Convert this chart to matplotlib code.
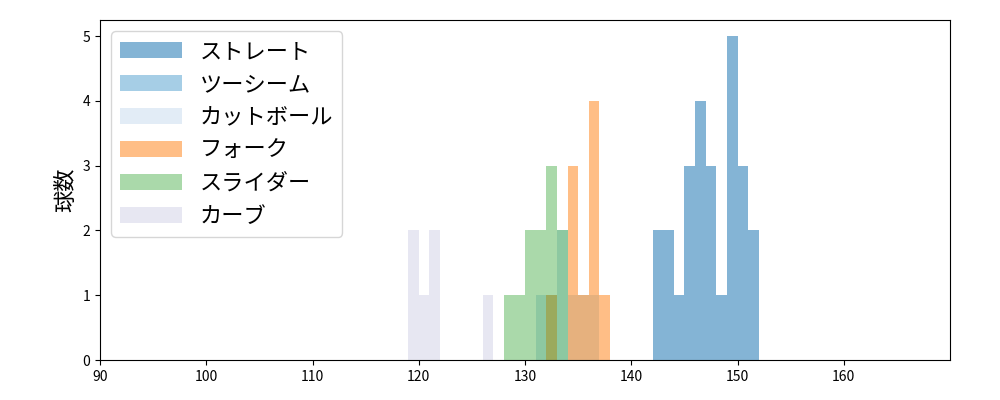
import numpy as np
import matplotlib
matplotlib.use("Agg")
import matplotlib.pyplot as plt

plt.rcParams['font.family'] = ['Noto Sans CJK JP', 'DejaVu Sans']

# speed (km/h) per pitch, one entry per pitch
straight_speeds = [142, 142, 143, 143, 144, 145, 145, 145, 146, 146, 146, 146,
                   147, 147, 147, 148, 149, 149, 149, 149, 149, 150, 150, 150, 151, 151]
twoseam_speeds = []
cutball_speeds = [131, 132, 133, 133, 134, 135, 136]
fork_speeds = [132, 134, 134, 134, 135, 136, 136, 136, 136, 137]
slider_speeds = [128, 129, 130, 130, 131, 131, 132, 132, 132, 133, 133]
curve_speeds = [119, 119, 120, 121, 121, 126]

labels = ['ストレート', 'ツーシーム', 'カットボール', 'フォーク', 'スライダー', 'カーブ']
colors = ['#1f77b4', '#6baed6', '#9ecae1', '#ff7f0e', '#2ca02c', '#d4d4e8']
alphas = [0.55, 0.6, 0.5, 0.5, 0.4, 0.55]
legend_colors = ['#1f77b4', '#6baed6', '#c6dbef', '#ff7f0e', '#2ca02c', '#d4d4e8']
series = [straight_speeds, twoseam_speeds, cutball_speeds, fork_speeds, slider_speeds, curve_speeds]

bins = np.arange(90, 171, 1)
fig, ax = plt.subplots(figsize=(10, 4), dpi=100)
for vals, lab, col, a in zip(series, labels, colors, alphas):
    ax.hist(np.array(vals, dtype=float) + 0.5, bins=bins, color=col, alpha=a, label=lab)

ax.set_xlim(90, 170)
ax.set_ylim(0, 5.25)
ax.set_xticks(range(90, 170, 10))
ax.set_yticks(range(0, 6))
ax.set_ylabel('球数', fontsize=16)
leg = ax.legend(loc='upper left', fontsize=16, handlelength=2.8, labelspacing=0.45)
for h, c, a in zip(leg.legend_handles, legend_colors, alphas):
    h.set_facecolor(c)
fig.subplots_adjust(left=0.1, right=0.95, top=0.95, bottom=0.1)
fig.savefig('out.png')
